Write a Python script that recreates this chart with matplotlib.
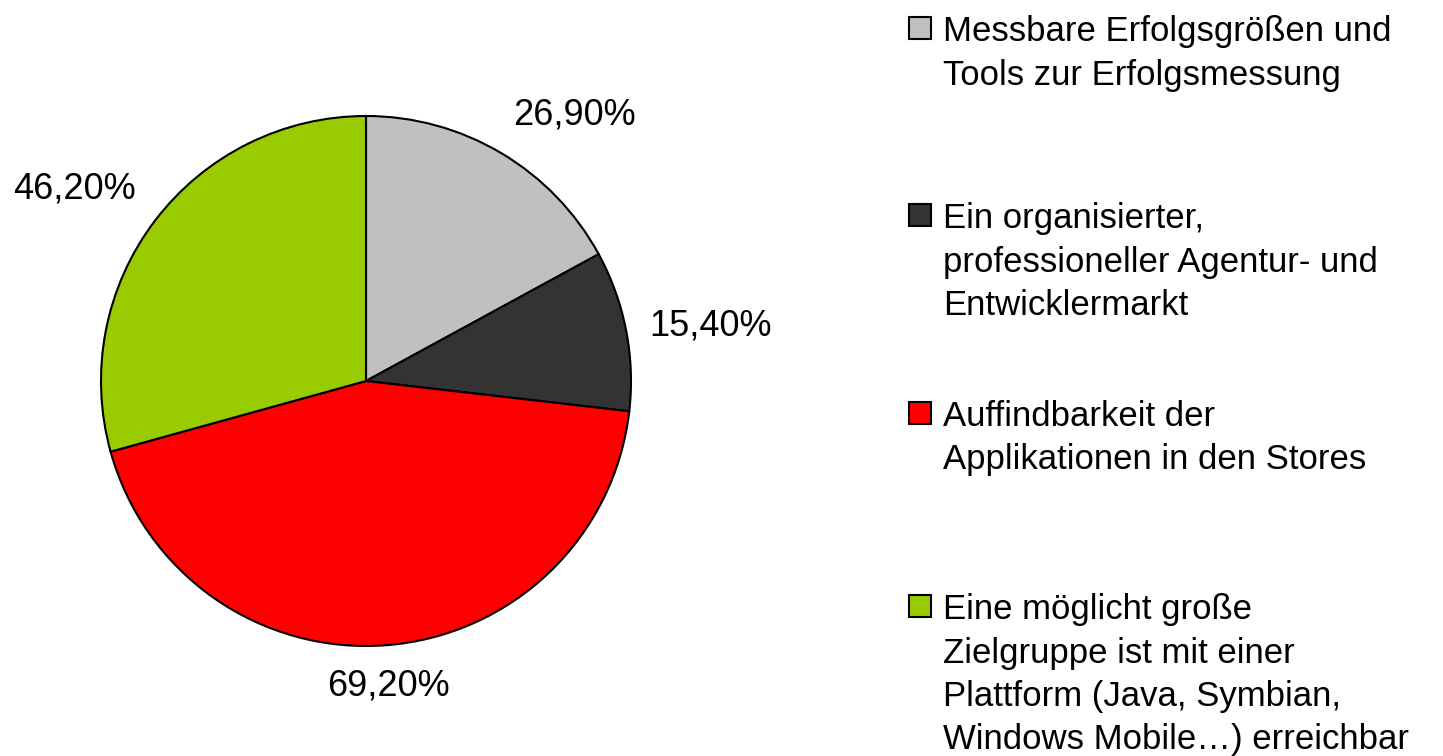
import matplotlib
matplotlib.use("Agg")
import matplotlib.pyplot as plt
from matplotlib.patches import Rectangle
import numpy as np

categories = [
    "Messbare Erfolgsgrößen und\nTools zur Erfolgsmessung",
    "Ein organisierter,\nprofessioneller Agentur- und\nEntwicklermarkt",
    "Auffindbarkeit der\nApplikationen in den Stores",
    "Eine möglicht große\nZielgruppe ist mit einer\nPlattform (Java, Symbian,\nWindows Mobile…) erreichbar",
]
values = [26.9, 15.4, 69.2, 46.2]
value_labels = ["26,90%", "15,40%", "69,20%", "46,20%"]
colors = ["#C0C0C0", "#333333", "#FF0000", "#99CC00"]

plt.rcParams["font.family"] = ["Liberation Sans", "DejaVu Sans"]

W, H = 1443, 756
fig = plt.figure(figsize=(W / 100, H / 100), dpi=100)
fig.patch.set_facecolor("white")

cx, cy, r = 366, 381, 265
ax = fig.add_axes([(cx - r) / W, (H - cy - r) / H, 2 * r / W, 2 * r / H])
wedges, texts = ax.pie(
    values, labels=value_labels, colors=colors, startangle=90, counterclock=False,
    radius=1.0, labeldistance=1.09,
    wedgeprops=dict(edgecolor="black", linewidth=1.5),
    textprops=dict(fontsize=26, color="black"),
)
for w, t in zip(wedges, texts):
    ang = np.deg2rad((w.theta1 + w.theta2) / 2)
    c, s = np.cos(ang), np.sin(ang)
    t.set_ha("left" if c > 0.2 else ("right" if c < -0.2 else "center"))
    t.set_va("bottom" if s > 0.3 else ("top" if s < -0.3 else "center"))
ax.set_xlim(-1, 1)
ax.set_ylim(-1, 1)
ax.set_aspect("equal")
ax.axis("off")

# legend (manual, Excel-like spacing)
first_line_y = [28, 215, 413, 606]
line_dy = 43.5
mx, msz = 909, 22
tx = 943
for lab, col, y0 in zip(categories, colors, first_line_y):
    fig.patches.append(Rectangle(((mx) / W, (H - y0 - msz / 2) / H), msz / W, msz / H,
                                 transform=fig.transFigure, facecolor=col,
                                 edgecolor="black", linewidth=1.5, figure=fig))
    for i, line in enumerate(lab.split("\n")):
        fig.text(tx / W, (H - y0 - i * line_dy) / H, line, fontsize=25,
                 ha="left", va="center_baseline", color="black")

fig.savefig("out.png", dpi=100, facecolor="white")
